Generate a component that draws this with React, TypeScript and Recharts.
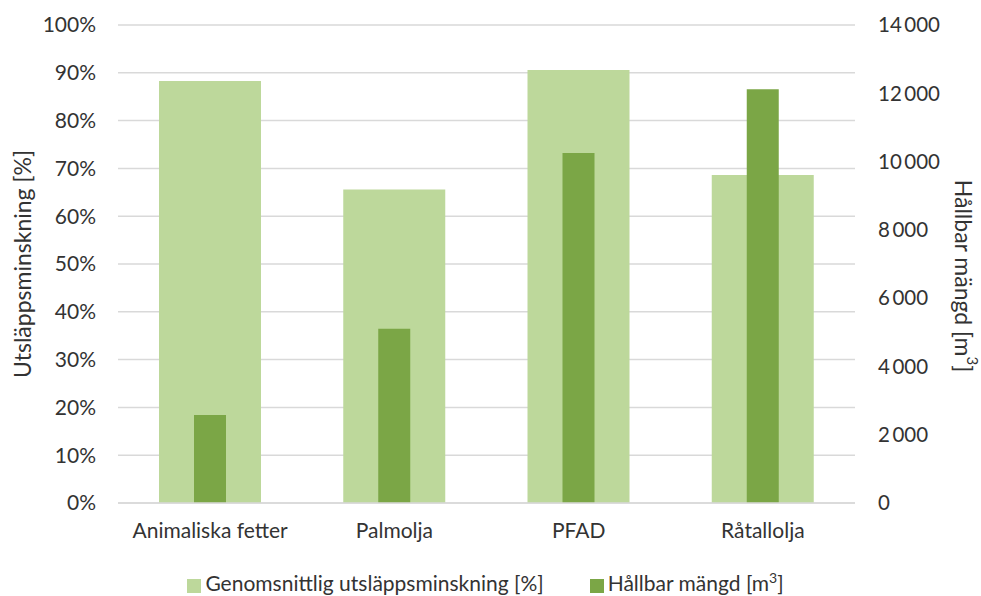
import { BarChart, Bar, XAxis, YAxis, CartesianGrid, Legend } from "recharts"

const categories = ["Animaliska fetter", "Palmolja", "PFAD", "Råtallolja"]
const reduction = [0.883, 0.656, 0.906, 0.686]
const volume = [2580, 5100, 10250, 12120]
const leftTicks = [0, 0.1, 0.2, 0.3, 0.4, 0.5, 0.6, 0.7, 0.8, 0.9, 1]
const rightTicks = [0, 2000, 4000, 6000, 8000, 10000, 12000, 14000]

const data = categories.map((name, i) => ({
  name,
  reduction: reduction[i],
  volume: volume[i],
}))

const font = "Lato, 'Open Sans', sans-serif"
const textColor = "#333333"
const light = "#bdd89b"
const dark = "#7ba646"

const fmtThousands = (v: number) =>
  v >= 1000 ? `${Math.floor(v / 1000)}\u2009${String(v % 1000).padStart(3, "0")}` : `${v}`

// axis titles drawn by hand so they can sit where the original has them
const LeftTitle = ({ viewBox }: any) => {
  const cx = viewBox.x + 22
  const cy = viewBox.y + viewBox.height / 2
  return (
    <text x={cx} y={cy} transform={`rotate(-90 ${cx} ${cy})`} textAnchor="middle" dominantBaseline="central"
      fill={textColor} fontSize={23}>
      Utsläppsminskning [%]
    </text>
  )
}

const RightTitle = ({ viewBox }: any) => {
  const cx = viewBox.x + viewBox.width - 17
  const cy = viewBox.y + viewBox.height / 2 + 12
  return (
    <text x={cx} y={cy} transform={`rotate(90 ${cx} ${cy})`} textAnchor="middle" dominantBaseline="central"
      fill={textColor} fontSize={23}>
      Hållbar mängd [m<tspan baselineShift="super" fontSize={15}>3</tspan>]
    </text>
  )
}

export default function App() {
  return (
    <div style={{ position: "absolute", left: 0, top: 0, width: 981, height: 596, background: "#fff" }}>
      <BarChart
        width={981}
        height={596}
        data={data}
        margin={{ top: 25, right: 0, left: 0, bottom: 0 }}
        style={{ fontFamily: font }}
      >
        <CartesianGrid yAxisId="left" xAxisId="a" vertical={false} stroke="#d9d9d9" strokeWidth={1.5} />
        <XAxis
          xAxisId="a"
          dataKey="name"
          axisLine={{ stroke: "#d9d9d9", strokeWidth: 1.5 }}
          tickLine={false}
          tick={{ fill: textColor, fontSize: 21 }}
          tickMargin={14}
          height={67}
        />
        <XAxis xAxisId="b" dataKey="name" hide />
        <YAxis
          yAxisId="left"
          orientation="left"
          domain={[0, 1]}
          ticks={leftTicks}
          tickFormatter={(v: number) => `${Math.round(v * 100)}%`}
          axisLine={false}
          tickLine={false}
          tickSize={0}
          tickMargin={22}
          tick={{ fill: textColor, fontSize: 21 }}
          width={118}
          label={<LeftTitle />}
        />
        <YAxis
          yAxisId="right"
          orientation="right"
          domain={[0, 14000]}
          ticks={rightTicks}
          tickFormatter={fmtThousands}
          axisLine={false}
          tickLine={false}
          tickSize={0}
          tickMargin={23}
          tick={{ fill: textColor, fontSize: 20.5, textAnchor: "start" }}
          width={126}
          label={<RightTitle />}
        />
        <Legend
          verticalAlign="bottom"
          iconType="square"
          iconSize={14}
          wrapperStyle={{ fontSize: 21, color: textColor, lineHeight: "26px" }}
          formatter={(value: string) =>
            value.startsWith("Hållbar") ? (
              <span style={{ color: textColor }}>
                Hållbar mängd [m<sup style={{ fontSize: 14, lineHeight: 0 }}>3</sup>]
              </span>
            ) : (
              <span style={{ color: textColor, marginRight: 36 }}>{value}</span>
            )
          }
        />
        <Bar
          xAxisId="a"
          yAxisId="left"
          dataKey="reduction"
          name="Genomsnittlig utsläppsminskning [%]"
          fill={light}
          barSize={102}
          isAnimationActive={false}
        />
        <Bar
          xAxisId="b"
          yAxisId="right"
          dataKey="volume"
          name="Hållbar mängd [m³]"
          fill={dark}
          barSize={32}
          isAnimationActive={false}
        />
      </BarChart>
    </div>
  )
}
